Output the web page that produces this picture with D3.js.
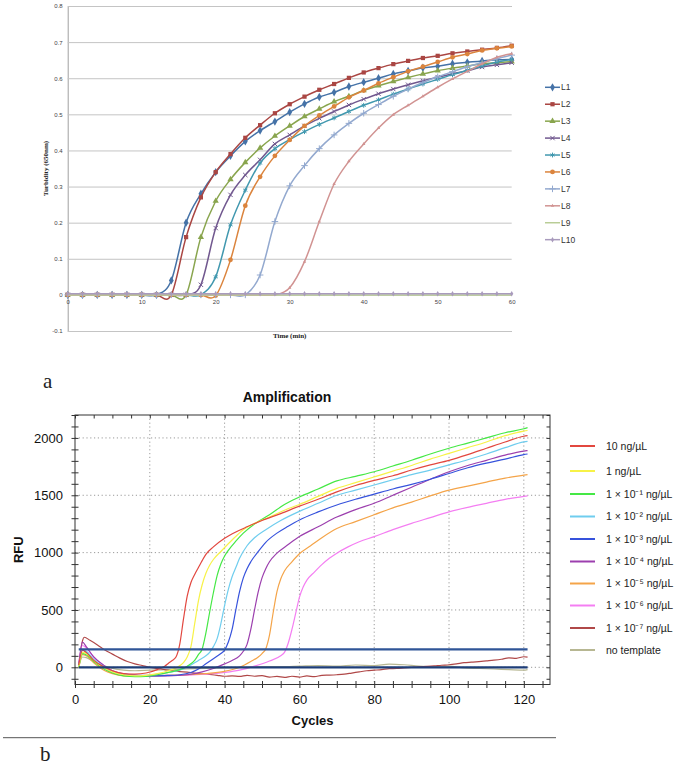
<!DOCTYPE html>
<html><head><meta charset="utf-8">
<script src="https://cdn.jsdelivr.net/npm/d3@7"></script>
<style>body{margin:0;background:#fff}svg{display:block}</style>
</head><body>
<svg id="c" width="685" height="765"></svg>
<script>
// ---------- Chart a: turbidity ----------
const timeMin = [0,2,4,6,8,10,12,14,16,18,20,22,24,26,28,30,32,34,36,38,40,42,44,46,48,50,52,54,56,58,60];
const timeTicks = [0,10,20,30,40,50,60];
const turbTicks = [-0.1,0,0.1,0.2,0.3,0.4,0.5,0.6,0.7,0.8];
const seriesNamesA = ["L1","L2","L3","L4","L5","L6","L7","L8","L9","L10"];
const L1 = [0,0,0,0,0,0,0,0.04,0.2,0.28,0.34,0.385,0.425,0.455,0.48,0.506,0.529,0.548,0.561,0.577,0.589,0.6,0.612,0.62,0.629,0.633,0.64,0.644,0.648,0.651,0.652];
const L2 = [0,0,0,0,0,0,0,0,0.16,0.27,0.34,0.39,0.435,0.47,0.503,0.528,0.549,0.568,0.584,0.601,0.616,0.628,0.639,0.648,0.656,0.662,0.669,0.674,0.679,0.684,0.69];
const L3 = [0,0,0,0,0,0,0,0,0,0.16,0.26,0.32,0.367,0.407,0.44,0.468,0.494,0.515,0.535,0.55,0.566,0.579,0.591,0.602,0.612,0.621,0.628,0.634,0.64,0.643,0.646];
const L4 = [0,0,0,0,0,0,0,0,0,0.028,0.185,0.277,0.332,0.374,0.418,0.443,0.468,0.489,0.508,0.526,0.542,0.557,0.57,0.582,0.593,0.603,0.612,0.621,0.631,0.637,0.643];
const L5 = [0,0,0,0,0,0,0,0,0,0,0.05,0.194,0.29,0.365,0.405,0.43,0.452,0.472,0.49,0.508,0.525,0.54,0.556,0.57,0.584,0.597,0.61,0.622,0.634,0.645,0.652];
const L6 = [0,0,0,0,0,0,0,0,0,0,-0.002,0.097,0.247,0.327,0.385,0.429,0.468,0.497,0.522,0.547,0.566,0.586,0.603,0.619,0.632,0.645,0.658,0.667,0.677,0.683,0.688];
const L7 = [0,0,0,0,0,0,0,0,0,0,0,0,0,0.055,0.203,0.302,0.358,0.405,0.443,0.475,0.503,0.527,0.55,0.57,0.588,0.604,0.618,0.632,0.643,0.654,0.664];
const L8 = [0,0,0,0,0,0,0,0,0,0,0,0,0,0,0,0.02,0.092,0.203,0.307,0.37,0.418,0.462,0.499,0.525,0.55,0.575,0.598,0.619,0.64,0.658,0.668];
const L9 = [0,0,0,0,0,0,0,0,0,0,0,0,0,0,0,0,0,0,0,0,0,0,0,0,0,0,0,0,0,0,0];
const L10 = [0.003,0.003,0.003,0.003,0.003,0.003,0.003,0.003,0.003,0.003,0.003,0.003,0.003,0.003,0.003,0.003,0.003,0.003,0.003,0.003,0.003,0.003,0.003,0.003,0.003,0.003,0.003,0.003,0.003,0.003,0.003];
const colorsA = ["#4572a7","#aa4643","#89a54e","#71588f","#4198af","#db843d","#93a9cf","#d19392","#b9cd96","#a99bbd"];

// ---------- Chart b: amplification ----------
const cycleTicks = [0,20,40,60,80,100,120];
const rfuTicks = [0,500,1000,1500,2000];
const rfu10 = [[1,20],[2,150],[3,130],[5,60],[8,0],[10,-30],[13,-55],[16,-60],[19,-50],[22,-20],[24,10],[25,35],[26,60],[27,90],[28,200],[29,420],[30,620],[31,740],[32,810],[33,870],[34,930],[35,985],[37,1050],[40,1125],[43,1180],[46,1225],[50,1280],[55,1340],[60,1405],[65,1465],[70,1530],[75,1585],[80,1630],[85,1670],[90,1720],[95,1765],[100,1805],[105,1855],[110,1910],[115,1965],[120,2015],[121,2020]];
const rfu1 = [[1,0],[2,130],[3,120],[5,60],[8,-10],[10,-40],[13,-65],[16,-75],[19,-70],[22,-55],[25,-30],[27,-5],[29,40],[30,90],[31,180],[32,380],[33,580],[34,720],[35,820],[36,890],[37,940],[39,1010],[42,1110],[45,1200],[48,1255],[52,1310],[56,1370],[60,1420],[65,1490],[70,1560],[75,1610],[80,1660],[85,1710],[90,1760],[95,1815],[100,1865],[105,1915],[110,1965],[115,2020],[120,2060],[121,2065]];
const rfuE1 = [[1,0],[2,120],[3,110],[5,50],[8,-20],[10,-50],[13,-75],[16,-82],[19,-80],[22,-65],[25,-45],[28,-20],[30,10],[32,60],[33,110],[34,160],[35,300],[36,480],[37,650],[38,800],[39,900],[40,970],[41,1020],[43,1100],[45,1170],[48,1250],[52,1330],[56,1420],[60,1485],[65,1555],[70,1625],[75,1665],[80,1705],[85,1755],[90,1805],[95,1860],[100,1910],[105,1955],[110,2000],[115,2045],[120,2080],[121,2090]];
const rfuE2 = [[1,0],[2,150],[3,140],[5,70],[8,0],[10,-35],[13,-60],[16,-70],[19,-70],[22,-60],[25,-45],[28,-25],[31,20],[33,60],[35,100],[36,130],[37,180],[38,250],[39,380],[40,540],[41,680],[42,790],[43,870],[44,950],[46,1060],[48,1130],[51,1200],[55,1280],[60,1360],[65,1430],[70,1500],[75,1545],[80,1590],[85,1635],[90,1680],[95,1720],[100,1765],[105,1810],[110,1860],[115,1915],[120,1965],[121,1970]];
const rfuE3 = [[1,0],[2,150],[3,135],[5,60],[8,-10],[10,-40],[13,-60],[16,-70],[20,-75],[24,-72],[28,-65],[31,-45],[33,-15],[35,30],[37,75],[39,120],[40,150],[41,220],[42,330],[43,500],[44,660],[45,780],[46,860],[47,920],[49,1010],[51,1090],[54,1170],[57,1230],[60,1285],[65,1355],[70,1415],[75,1465],[80,1510],[85,1555],[90,1595],[95,1640],[100,1690],[105,1740],[110,1780],[115,1815],[120,1855],[121,1860]];
const rfuE4 = [[1,20],[2,220],[3,180],[5,90],[8,10],[10,-30],[13,-60],[16,-70],[20,-75],[25,-75],[30,-65],[34,-40],[37,-10],[40,30],[42,60],[44,100],[45,140],[46,200],[47,330],[48,500],[49,660],[50,780],[51,860],[52,920],[54,995],[57,1070],[60,1140],[65,1225],[70,1310],[75,1375],[80,1430],[85,1500],[90,1570],[95,1640],[100,1705],[105,1760],[110,1805],[115,1850],[120,1885],[121,1890]];
const rfuE5 = [[1,0],[2,110],[3,100],[5,40],[8,-30],[10,-55],[13,-75],[16,-78],[20,-75],[25,-70],[30,-65],[35,-55],[40,-35],[44,0],[47,50],[49,90],[50,120],[51,160],[52,280],[53,480],[54,660],[55,770],[56,840],[58,920],[60,990],[63,1060],[66,1130],[70,1210],[75,1270],[80,1330],[85,1390],[90,1440],[95,1495],[100,1545],[105,1580],[110,1615],[115,1650],[120,1675],[121,1680]];
const rfuE6 = [[1,30],[2,190],[3,170],[5,90],[8,10],[10,-30],[13,-55],[16,-65],[20,-70],[25,-70],[30,-68],[35,-60],[40,-45],[44,-25],[48,10],[52,55],[55,100],[56,130],[57,210],[58,330],[59,470],[60,610],[61,700],[62,760],[64,830],[66,895],[68,950],[70,995],[73,1050],[76,1095],[80,1140],[85,1200],[90,1255],[95,1305],[100,1355],[105,1395],[110,1430],[115,1465],[120,1490],[121,1495]];
const rfuE7 = [[1,0],[2,230],[2.5,262],[4,235],[6,195],[8,150],[10,115],[12,80],[14,50],[16,30],[18,15],[20,0],[22,-10],[24,-20],[26,-30],[28,-38],[30,-42],[32,-50],[34,-55],[36,-62],[38,-70],[40,-78],[42,-75],[44,-80],[46,-70],[48,-78],[50,-72],[52,-85],[54,-80],[56,-88],[58,-78],[60,-85],[62,-75],[64,-82],[66,-70],[68,-68],[70,-65],[72,-60],[74,-50],[76,-40],[78,-30],[80,-25],[82,-20],[84,-12],[86,-10],[88,-5],[90,0],[92,5],[94,8],[96,12],[98,18],[100,22],[102,30],[104,40],[106,45],[108,50],[110,56],[112,62],[114,70],[116,82],[118,78],[120,92],[121,88]];
const rfuNT = [[1,0],[2,90],[3,85],[5,50],[8,10],[10,-10],[13,-25],[16,-30],[20,-25],[25,-20],[30,-15],[35,-10],[40,-5],[45,0],[50,5],[55,5],[60,10],[65,15],[70,10],[75,20],[80,15],[84,28],[88,22],[92,10],[96,5],[100,10],[104,-5],[108,-10],[112,-15],[116,-20],[120,-25],[121,-20]];
const legendB = ["10 ng/µL","1 ng/µL","1 × 10⁻¹  ng/µL","1 × 10⁻² ng/µL","1 × 10⁻³ ng/µL","1 × 10⁻⁴ ng/µL","1 × 10⁻⁵ ng/µL","1 × 10⁻⁶ ng/µL","1 × 10⁻⁷ ng/µL","no template"];
const colorsB = ["#e2473f","#f7f247","#45e845","#6fcdee","#3652dc","#9c3fae","#f4a449","#f47ef2","#b04848","#b7b792"];
const thresholds = [157, 0];
const thresholdColors = ["#2f5597","#1e3e78"];

const svg = d3.select("#c");

// ====== Chart a ======
const xA = d3.scaleLinear().domain([0,60]).range([67.7,511.7]);
const yA = d3.scaleLinear().domain([-0.1,0.8]).range([331,6]);
const gA = svg.append("g");
const yAxA = gA.append("g").attr("transform",`translate(${xA(0)},0)`)
  .call(d3.axisLeft(yA).tickValues(turbTicks).tickSize(-(xA(60)-xA(0))).tickPadding(5)
    .tickFormat(d => d===0 ? "0" : d.toFixed(1)));
yAxA.select(".domain").attr("stroke","#a0a0a0");
yAxA.selectAll(".tick line").attr("stroke","#c4c4c4");
yAxA.selectAll("text").attr("font-family","Liberation Sans, Arial, sans-serif").attr("font-size",6).attr("fill","#444");
const xAxA = gA.append("g").attr("transform",`translate(0,${yA(0)})`)
  .call(d3.axisBottom(xA).tickValues(timeTicks).tickSize(0).tickPadding(5));
xAxA.select(".domain").remove();
xAxA.selectAll("text").attr("font-family","Liberation Sans, Arial, sans-serif").attr("font-size",6).attr("fill","#444");

gA.append("text").attr("transform",`translate(48,${(yA(0.8)+yA(-0.1))/2}) rotate(-90)`)
  .attr("text-anchor","middle").attr("font-family","Liberation Serif, Times New Roman, serif")
  .attr("font-weight","bold").attr("font-size",7).attr("fill","#222").text("Turbidity (650nm)");
gA.append("text").attr("x",(xA(0)+xA(60))/2).attr("y",338).attr("text-anchor","middle")
  .attr("font-family","Liberation Serif, Times New Roman, serif").attr("font-weight","bold")
  .attr("font-size",7).attr("fill","#222").text("Time (min)");

const seriesA = [L1,L2,L3,L4,L5,L6,L7,L8,L9,L10];
const symA = [d3.symbolDiamond, d3.symbolSquare, d3.symbolTriangle, d3.symbolTimes||d3.symbolCross,
  d3.symbolAsterisk||d3.symbolCross, d3.symbolCircle, d3.symbolPlus||d3.symbolCross, d3.symbolTriangle, null, d3.symbolDiamond];
const symStroke = [false,false,false,true,true,false,true,false,false,false];
const symSize = [20,18,17,14,16,18,16,5,0,9];
const lineA = d3.line().x((d,i)=>xA(timeMin[i])).y(d=>yA(d)).curve(d3.curveCardinal);
seriesA.forEach((vals,si)=>{
  const g = gA.append("g");
  g.append("path").attr("d",lineA(vals)).attr("fill","none").attr("stroke",colorsA[si]).attr("stroke-width",1.5);
  if (symA[si]) {
    const sym = d3.symbol().type(symA[si]).size(symSize[si]);
    g.selectAll("path.m").data(vals).join("path").attr("class","m")
      .attr("transform",(d,i)=>`translate(${xA(timeMin[i])},${yA(d)})`)
      .attr("d",sym)
      .attr("fill", symStroke[si] ? "none" : colorsA[si])
      .attr("stroke", symStroke[si] ? colorsA[si] : "none")
      .attr("stroke-width",1);
  }
});
// legend a
const legA = gA.append("g");
seriesNamesA.forEach((nm,si)=>{
  const y = 87.3 + si*16.93;
  legA.append("line").attr("x1",545).attr("x2",560).attr("y1",y).attr("y2",y).attr("stroke",colorsA[si]).attr("stroke-width",1.5);
  if (symA[si]) {
    legA.append("path").attr("transform",`translate(552.5,${y})`).attr("d",d3.symbol().type(symA[si]).size(symSize[si])())
      .attr("fill", symStroke[si] ? "none" : colorsA[si]).attr("stroke", symStroke[si] ? colorsA[si] : "none").attr("stroke-width",1);
  }
  legA.append("text").attr("x",561).attr("y",y).attr("dy","0.35em").attr("font-family","Liberation Sans, Arial, sans-serif")
    .attr("font-size",8.5).attr("fill","#333").text(nm);
});

svg.append("text").attr("x",43).attr("y",388).attr("font-family","Liberation Serif, Times New Roman, serif").attr("font-size",21).attr("fill","#222").text("a");

// ====== Chart b ======
const xB = d3.scaleLinear().domain([0,127]).range([75,550]);
const yB = d3.scaleLinear().domain([-150,2200]).range([684.5,415]);
const gB = svg.append("g");
gB.append("text").attr("x",287).attr("y",402).attr("text-anchor","middle").attr("font-family","Liberation Sans, Arial, sans-serif")
  .attr("font-weight","bold").attr("font-size",14).attr("fill","#111").text("Amplification");
// grid
gB.selectAll("line.gx").data(cycleTicks.filter(d=>d>0)).join("line").attr("class","gx")
  .attr("x1",d=>xB(d)).attr("x2",d=>xB(d)).attr("y1",yB(2200)).attr("y2",yB(-150))
  .attr("stroke","#9a9a9a").attr("stroke-dasharray","1.2,2.6");
gB.selectAll("line.gy").data(rfuTicks).join("line").attr("class","gy")
  .attr("x1",xB(0)).attr("x2",xB(127)).attr("y1",d=>yB(d)).attr("y2",d=>yB(d))
  .attr("stroke","#9a9a9a").attr("stroke-dasharray","1.2,2.6");
// minor ticks on all four sides
const minorX = d3.range(0,126,5), minorY = d3.range(-100,2201,100);
const tickAx = (gen,tr)=>{ const a = gB.append("g").attr("transform",tr).call(gen); a.select(".domain").remove(); a.selectAll(".tick line").attr("stroke","#333"); return a; };
tickAx(d3.axisBottom(xB).tickValues(minorX).tickSize(3.5).tickFormat(""),`translate(0,${yB(-150)})`);
tickAx(d3.axisTop(xB).tickValues(minorX).tickSize(3.5).tickFormat(""),`translate(0,${yB(-150)})`);
tickAx(d3.axisBottom(xB).tickValues(minorX).tickSize(3.5).tickFormat(""),`translate(0,${yB(2200)})`);
tickAx(d3.axisLeft(yB).tickValues(minorY).tickSize(3.5).tickFormat(""),`translate(${xB(0)},0)`);
tickAx(d3.axisRight(yB).tickValues(minorY).tickSize(3.5).tickFormat(""),`translate(${xB(0)},0)`);
tickAx(d3.axisLeft(yB).tickValues(minorY).tickSize(3.5).tickFormat(""),`translate(${xB(127)},0)`);
// frame
gB.append("rect").attr("x",xB(0)).attr("y",yB(2200)).attr("width",xB(127)-xB(0)).attr("height",yB(-150)-yB(2200))
  .attr("fill","none").attr("stroke","#333").attr("stroke-width",1);
// tick labels
const xLab = gB.append("g").attr("transform",`translate(0,${yB(-150)})`).call(d3.axisBottom(xB).tickValues(cycleTicks).tickSize(0).tickPadding(10).tickFormat(d3.format("d")));
xLab.select(".domain").remove();
xLab.selectAll("text").attr("font-family","Liberation Sans, Arial, sans-serif").attr("font-size",13).attr("fill","#111");
const yLab = gB.append("g").attr("transform",`translate(${xB(0)},0)`).call(d3.axisLeft(yB).tickValues(rfuTicks).tickSize(0).tickPadding(12).tickFormat(d3.format("d")));
yLab.select(".domain").remove();
yLab.selectAll("text").attr("font-family","Liberation Sans, Arial, sans-serif").attr("font-size",13).attr("fill","#111");
gB.append("text").attr("transform",`translate(23,${(yB(2200)+yB(-150))/2}) rotate(-90)`).attr("text-anchor","middle")
  .attr("font-family","Liberation Sans, Arial, sans-serif").attr("font-weight","bold").attr("font-size",13).attr("fill","#111").text("RFU");
gB.append("text").attr("x",(xB(0)+xB(127))/2).attr("y",725).attr("text-anchor","middle")
  .attr("font-family","Liberation Sans, Arial, sans-serif").attr("font-weight","bold").attr("font-size",13).attr("fill","#111").text("Cycles");
// curves
const seriesB = [rfu10,rfu1,rfuE1,rfuE2,rfuE3,rfuE4,rfuE5,rfuE6,rfuE7,rfuNT];
const lineB = d3.line().x(d=>xB(d[0])).y(d=>yB(d[1])).curve(d3.curveMonotoneX);
seriesB.slice().reverse().forEach((vals,ri)=>{
  const si = seriesB.length-1-ri;
  gB.append("path").attr("d",lineB(vals)).attr("fill","none").attr("stroke",colorsB[si]).attr("stroke-width",1.2);
});
// threshold / baseline lines
thresholds.forEach((t,i)=>{
  gB.append("line").attr("x1",xB(1)).attr("x2",xB(121)).attr("y1",yB(t)).attr("y2",yB(t))
    .attr("stroke",thresholdColors[i]).attr("stroke-width",2.2);
});
// legend b
const yLegB = [446,471,494,516.5,539,561.5,583.5,605.5,628,650];
legendB.forEach((lab,si)=>{
  gB.append("line").attr("x1",570).attr("x2",595).attr("y1",yLegB[si]).attr("y2",yLegB[si]).attr("stroke",colorsB[si]).attr("stroke-width",2);
  gB.append("text").attr("x",606).attr("y",yLegB[si]).attr("dy","0.35em").attr("font-family","Liberation Sans, Arial, sans-serif")
    .attr("font-size",10.5).attr("fill","#222").text(lab);
});

svg.append("line").attr("x1",3).attr("x2",556).attr("y1",737.7).attr("y2",737.7).attr("stroke","#555").attr("stroke-width",1);
svg.append("text").attr("x",40).attr("y",761).attr("font-family","Liberation Serif, Times New Roman, serif").attr("font-size",21).attr("fill","#222").text("b");
</script>
</body></html>
